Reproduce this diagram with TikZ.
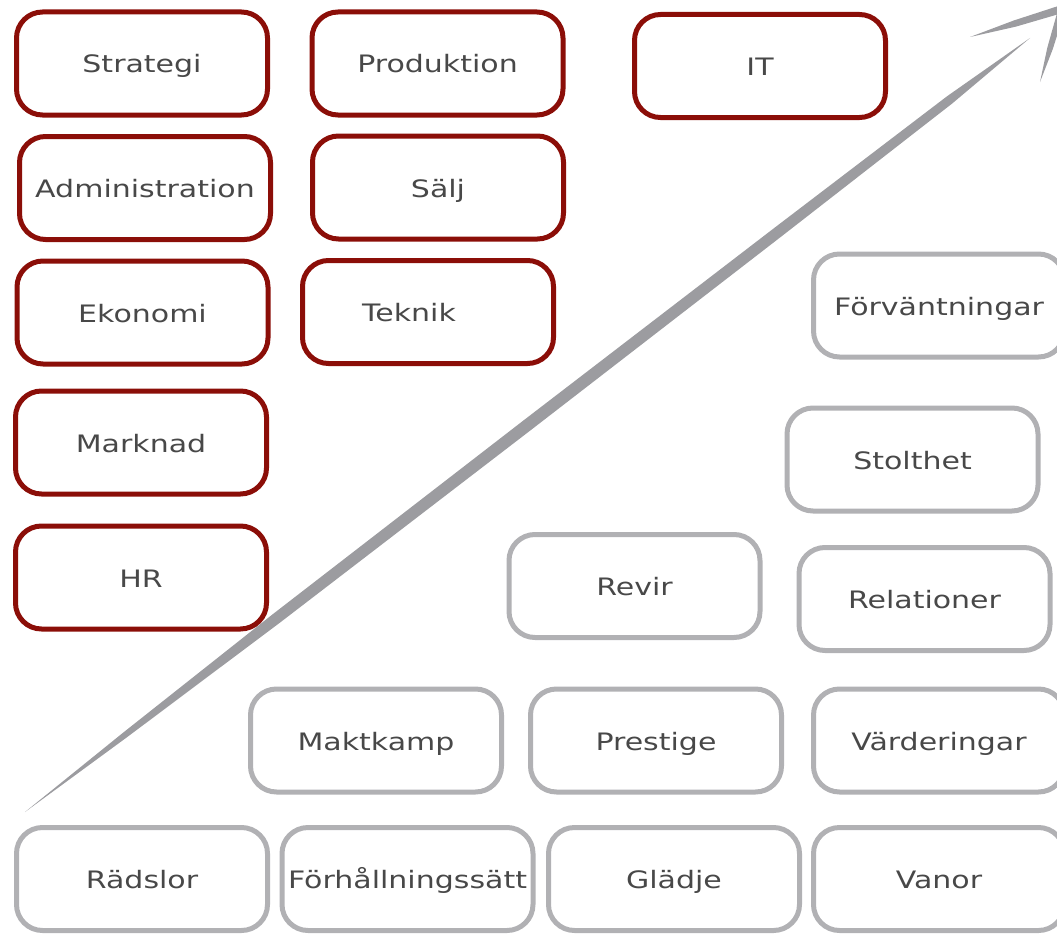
\documentclass[tikz,border=0pt]{standalone}
\usepackage{fontspec}
\newfontfamily\handfont[FakeStretch=1.25]{DejaVu Sans}
\definecolor{boxred}{HTML}{8B0E08}
\definecolor{boxgray}{HTML}{B1B1B4}
\definecolor{arrowgray}{HTML}{9C9CA0}
\definecolor{txt}{HTML}{484848}
\begin{document}
\begin{tikzpicture}[x=1pt,y=-1pt,
  box/.style={draw, rounded corners=26pt, line width=5pt, minimum width=251pt,
    minimum height=103pt, inner sep=0pt, text=txt, text height=19pt, text depth=0pt,
    font=\handfont\fontsize{24}{26}\selectfont},
  redbox/.style={box, draw=boxred},
  graybox/.style={box, draw=boxgray},
  arrowfill/.style={fill=arrowgray, draw=none}]
\useasboundingbox (0,0) rectangle (1057,934);
\clip (0,0) rectangle (1057,934);
% red boxes
\node[redbox] (strategi) at (142,63.5) {Strategi};
\node[redbox] (produktion) at (437.5,63.5) {Produktion};
\node[redbox] (it) at (760,66) {IT};
\node[redbox] (admin) at (145,188) {Administration};
\node[redbox] (salj) at (438,187.5) {Sälj};
\node[redbox] (ekonomi) at (142.5,312.5) {Ekonomi};
\node[redbox] (teknik) at (428,312) {\hspace*{-38pt}Teknik};
\node[redbox] (marknad) at (141,442.5) {Marknad};
\node[redbox] (hr) at (141,577.5) {HR};
% gray boxes
\node[graybox] (forv) at (939,305.5) {Förväntningar};
\node[graybox] (stolthet) at (912.5,459.5) {Stolthet};
\node[graybox] (revir) at (634.5,586) {Revir};
\node[graybox] (relationer) at (924.5,599) {Relationer};
\node[graybox] (maktkamp) at (376,740.5) {Maktkamp};
\node[graybox] (prestige) at (656,740.5) {Prestige};
\node[graybox] (varderingar) at (939,740.5) {Värderingar};
\node[graybox] (radslor) at (142,879) {Rädslor};
\node[graybox] (forh) at (407.5,879) {Förhållningssätt};
\node[graybox] (gladje) at (674,879) {Glädje};
\node[graybox] (vanor) at (939,879) {Vanor};
% arrow shaft
\coordinate (shaftstart) at (25,812);
\coordinate (shaftend) at (1030,38);
\fill[arrowfill] (shaftstart) -- (123.7,732.2) -- (272.9,614.1) -- (523.8,420.2)
  -- (775.4,227.1) -- (947.0,96.3) -- (shaftend) -- (952.2,103.5)
  -- (782.1,235.9) -- (531.2,429.8) -- (279.6,622.9) -- (127.3,737.0) -- cycle;
% arrow head barbs
\coordinate (tip) at (1062,9);
\fill[arrowfill] (970,37) -- (1014.0,20.4) -- (1060.8,5.2) -- (1063.2,12.8)
  -- (1016.0,26.6) -- cycle;
\fill[arrowfill] (1040,82) -- (1047.3,47.7) -- (1056.8,14.0) -- (1063.2,16.0)
  -- (1052.7,49.3) -- cycle;
\end{tikzpicture}
\end{document}
